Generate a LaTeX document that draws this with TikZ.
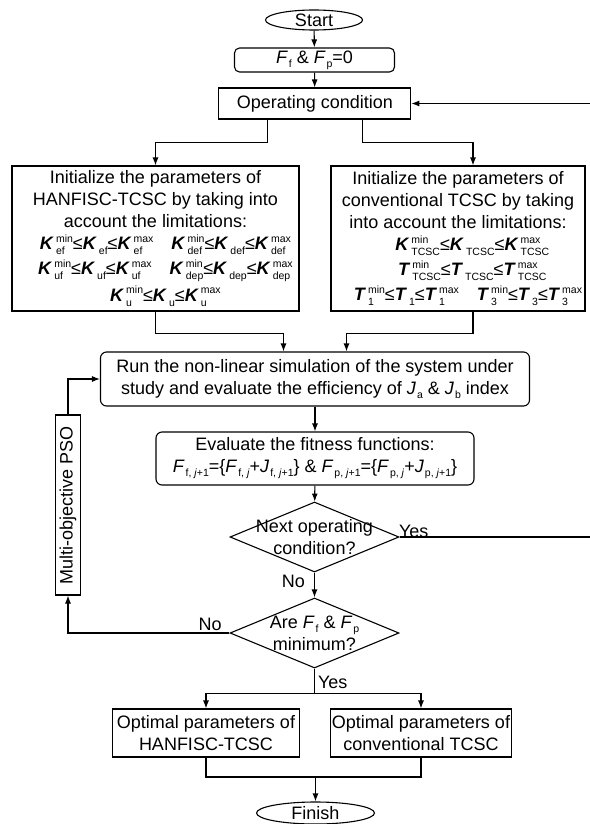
\documentclass[tikz,border=0pt]{standalone}
\usepackage{fontspec}
\setmainfont{Liberation Sans}
\usetikzlibrary{positioning,shapes.geometric,arrows.meta}
\newcommand{\scr}[1]{{\fontsize{10.5}{10.5}\selectfont #1}}
\newcommand{\bnd}[3]{\textbf{\textit{#1}}\kern2pt\setbox0=\hbox{\scr{#2}}\setbox2=\hbox{\scr{#3}}%
  \rlap{\raise7.3pt\copy2}\rlap{\lower5.3pt\copy0}%
  \ifdim\wd0>\wd2 \hskip\wd0\relax\else\hskip\wd2\relax\fi}
\newcommand{\bvar}[2]{\textbf{\textit{#1}}\kern2pt\lower5.3pt\hbox{\scr{#2}}}
\newcommand{\ivar}[2]{\textit{#1}\kern1pt\lower4pt\hbox{\scr{#2}}}

\begin{document}
\begin{tikzpicture}[x=1pt,y=-1pt,
  every node/.style={font=\fontsize{18}{22}\selectfont, inner sep=0pt},
  box/.style = {draw, line width=1.1pt, align=center},
  rbox/.style = {box, rounded corners=6pt},
  term/.style = {ellipse, draw, line width=1.1pt},
  dec/.style = {diamond, draw, line width=1.1pt},
  ln/.style = {line width=1.1pt},
  arr/.style = {ln, -{Latex[length=8pt,width=6pt]}}]
  \useasboundingbox (0,0) rectangle (589,824);

  \node[term, minimum width=97, minimum height=20] (start) at (314,20) {Start};
  \node[rbox, rounded corners=5pt, minimum width=160, minimum height=24] (fzero) at (314.5,60) {\ivar{F}{f} \& \ivar{F}{p}=0};
  \node[box, minimum width=192, minimum height=31] (cond) at (314.8,103.5) {Operating condition};

  \node[box, minimum width=287, minimum height=145] (hanf) at (155.5,238.5) {Initialize the parameters of\\
    HANFISC-TCSC by taking into\\
    account the limitations:\\
    \bnd{K}{ef}{min}≤\bvar{K}{ef}≤\bnd{K}{ef}{max}\quad \bnd{K}{def}{min}≤\bvar{K}{def}≤\bnd{K}{def}{max}\\[3pt]
    \bnd{K}{uf}{min}≤\bvar{K}{uf}≤\bnd{K}{uf}{max}\quad \bnd{K}{dep}{min}≤\bvar{K}{dep}≤\bnd{K}{dep}{max}\\[3pt]
    \bnd{K}{u}{min}≤\bvar{K}{u}≤\bnd{K}{u}{max}};
  \node[box, minimum width=254, minimum height=145] (conv) at (458,238.5) {Initialize the parameters of\\
    conventional TCSC by taking\\
    into account the limitations:\\
    \bnd{K}{TCSC}{min}≤\bvar{K}{TCSC}≤\bnd{K}{TCSC}{max}\\[3pt]
    \bnd{T}{TCSC}{min}≤\bvar{T}{TCSC}≤\bnd{T}{TCSC}{max}\\[3pt]
    \bnd{T}{1}{min}≤\bvar{T}{1}≤\bnd{T}{1}{max}\quad \bnd{T}{3}{min}≤\bvar{T}{3}≤\bnd{T}{3}{max}};

  \node[rbox, minimum width=429, minimum height=54] (run) at (315,379) {Run the non-linear simulation of the system under\\
    study and evaluate the efficiency of \ivar{J}{a} \& \ivar{J}{b} index};
  \node[rbox, minimum width=318, minimum height=53] (eval) at (315,458.5) {Evaluate the fitness functions:\\
    \ivar{F}{f, \textit{j}+1}=\{\ivar{F}{f, \textit{j}}+\ivar{J}{f, \textit{j}+1}\} \&
    \ivar{F}{p, \textit{j}+1}=\{\ivar{F}{p, \textit{j}}+\ivar{J}{p, \textit{j}+1}\}};

  \node[dec, minimum width=169, minimum height=70] (next) at (314.5,537) {};
  \node[align=center] (nexttxt) at (next) {Next operating\\condition?};
  \node[dec, minimum width=169, minimum height=70] (mini) at (314.5,633) {};
  \node[align=center] (minitxt) at (mini) {Are \ivar{F}{f} \& \ivar{F}{p}\\minimum?};

  \node[box, rotate=90, minimum width=180, minimum height=25] (pso) at (68,505) {Multi-objective PSO};

  \node[box, minimum width=187, minimum height=48] (opth) at (206,733) {Optimal parameters of\\HANFISC-TCSC};
  \node[box, minimum width=181, minimum height=48] (optc) at (421,733) {Optimal parameters of\\conventional TCSC};
  \node[term, minimum width=118, minimum height=22] (finish) at (315.5,813) {Finish};

  \coordinate (rt) at (592,537);
  \coordinate (mrg) at (315.5,777);

  \draw[arr] (start) -- (fzero);
  \draw[arr] (fzero) -- (cond);
  \draw[arr] ([xshift=-47pt]cond.south) -- ++(0,22.5) -| (hanf.north);
  \draw[arr] ([xshift=47.5pt]cond.south) -- ++(0,22.5) -| ([xshift=15pt]conv.north);
  \draw[arr] (hanf.south) -- ++(0,22) -| ([xshift=-31.5pt]run.north);
  \draw[arr] ([xshift=15pt]conv.south) -- ++(0,22) -| ([xshift=31.5pt]run.north);
  \draw[arr] (run) -- (eval);
  \draw[arr] (eval) -- (next);
  \draw[arr] (next.east) -- node[pos=0, anchor=south west, xshift=-1pt, yshift=-1pt] {Yes} (rt) |- (cond.east);
  \draw[arr] (next.south) -- node[pos=0.35, left=9pt] {No} (mini.north);
  \draw[arr] (mini.west) -| node[pos=0.06, above=2pt] {No} (pso.west);
  \draw[arr] (pso.east) |- (run.west);
  \draw[arr] (mini.south) -- node[pos=0.55, right=3pt] {Yes} ++(0,25) -| (opth.north);
  \draw[arr] (mini.south) ++(0,25) -| (optc.north);
  \draw[ln] (opth.south) |- (mrg) -| (optc.south);
  \draw[arr] (mrg) -- (finish);
\end{tikzpicture}
\end{document}
